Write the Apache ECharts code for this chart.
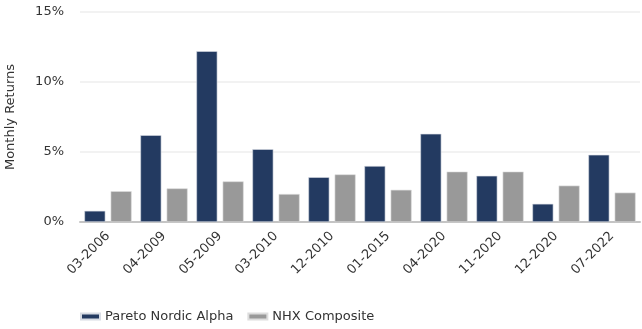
<!DOCTYPE html>
<html>
<head>
<meta charset="utf-8">
<script src="https://cdn.jsdelivr.net/npm/echarts@6/dist/echarts.min.js"></script>
<style>
  html, body { margin: 0; padding: 0; background: #fff; }
  #chart { width: 642px; height: 329px; }
</style>
</head>
<body>
<div id="chart"></div>
<script>
// Months with the largest monthly returns
const categories = ['03-2006', '04-2009', '05-2009', '03-2010', '12-2010', '01-2015', '04-2020', '11-2020', '12-2020', '07-2022'];
const paretoNordicAlpha = [0.8, 6.2, 12.2, 5.2, 3.2, 4.0, 6.3, 3.3, 1.3, 4.8];
const nhxComposite = [2.2, 2.4, 2.9, 2.0, 3.4, 2.3, 3.6, 3.6, 2.6, 2.1];
const yTicks = [0, 5, 10, 15];

const font = '"DejaVu Sans", Verdana, sans-serif';
const chart = echarts.init(document.getElementById('chart'), null, { renderer: 'canvas' });

chart.setOption({
  animation: false,
  textStyle: { fontFamily: font },
  grid: { left: 80, right: 2, top: 12, bottom: 107, containLabel: false, outerBoundsMode: 'none' },
  legend: {
    top: 305,
    left: 75,
    itemWidth: 19,
    itemHeight: 6,
    itemGap: 14,
    icon: 'rect',
    textStyle: { fontFamily: font, fontSize: 13, color: '#333' },
    data: ['Pareto Nordic Alpha', 'NHX Composite']
  },
  xAxis: {
    type: 'category',
    data: categories,
    axisLine: { lineStyle: { color: '#c4c4c4', width: 2 } },
    axisTick: { alignWithLabel: true, length: 5, lineStyle: { color: '#c4c4c4' } },
    axisLabel: { rotate: 45, fontFamily: font, fontSize: 13, color: '#333', margin: 12 }
  },
  yAxis: {
    type: 'value',
    min: yTicks[0],
    max: yTicks[yTicks.length - 1],
    interval: 5,
    name: 'Monthly Returns',
    nameLocation: 'middle',
    nameGap: 63,
    nameTextStyle: { fontFamily: font, fontSize: 13, color: '#333' },
    axisLine: { show: false },
    axisTick: { show: false },
    axisLabel: { formatter: '{value}%', fontFamily: font, fontSize: 13, color: '#333', margin: 16 },
    splitLine: { lineStyle: { color: '#eeeeee', width: 1.5 } }
  },
  series: [
    {
      name: 'Pareto Nordic Alpha',
      type: 'bar',
      data: paretoNordicAlpha,
      barWidth: 21,
      barGap: '25%',
      itemStyle: { color: '#233a61', borderColor: '#d8dce4', borderWidth: 0.6 }
    },
    {
      name: 'NHX Composite',
      type: 'bar',
      data: nhxComposite,
      barWidth: 21,
      itemStyle: { color: '#999999', borderColor: '#dddddd', borderWidth: 0.6 }
    }
  ]
});
</script>
</body>
</html>
